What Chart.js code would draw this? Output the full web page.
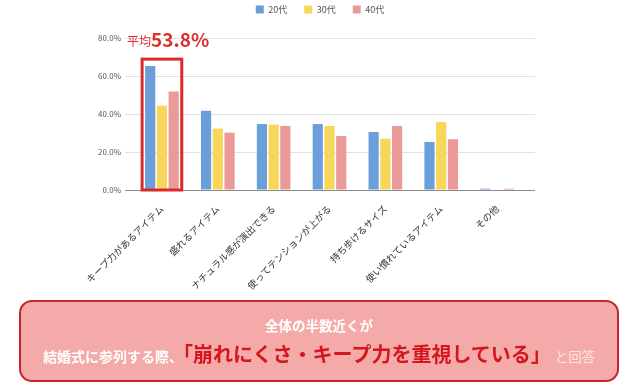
<!DOCTYPE html>
<html lang="ja">
<head>
<meta charset="utf-8">
<script src="https://cdn.jsdelivr.net/npm/chart.js@4.4.1/dist/chart.umd.min.js"></script>
<style>
  html, body { margin: 0; padding: 0; background: #fff; }
  body { width: 640px; height: 387px; position: relative; overflow: hidden;
         font-family: "Noto Sans CJK JP", "Noto Sans", sans-serif; }
  #c { position: absolute; left: 0; top: 0; }
  #box { position: absolute; left: 19px; top: 300px; width: 596px; height: 78px;
         background: #f4aaa8; border: 2px solid #c2272d; border-radius: 13px; }
  #l1 { position: absolute; left: 0; top: 14px; width: 100%; text-align: center;
        color: #fff; font-weight: 700; font-size: 13.5px; line-height: 18px; }
  #l2 { position: absolute; left: 22px; top: 39px; white-space: nowrap; line-height: 26px; }
  .w { color: #fff; font-weight: 700; font-size: 14px; }
  .r { color: #d3171c; font-weight: 700; font-size: 20px; }
  .f { color: #fbe3e1; font-size: 13.5px; margin-left: 4px; }
</style>
</head>
<body>
<canvas id="c" width="640" height="387"></canvas>
<div id="box">
  <div id="l1">全体の半数近くが</div>
  <div id="l2"><span class="w">結婚式に参列する際、</span><span class="r">「崩れにくさ・キープ力を重視している」</span><span class="f">と回答</span></div>
</div>
<script>
const categories = ["キープ力があるアイテム", "盛れるアイテム", "ナチュラル感が演出できる", "使ってテンションが上がる", "持ち歩けるサイズ", "使い慣れているアイテム", "その他"];
const seriesNames = ["20代", "30代", "40代"];
const values20 = [65.2, 41.7, 34.7, 34.7, 30.5, 25.3, 0.7];
const values30 = [44.4, 32.3, 34.4, 33.7, 27.0, 35.8, 0.3];
const values40 = [51.8, 30.2, 33.7, 28.4, 33.7, 26.7, 0.7];
const yTicks = [0, 20, 40, 60, 80];

const colors = ["#6a9fd9", "#f8d65a", "#e99a99"];
const FONT = '"Noto Sans CJK JP", "Noto Sans", sans-serif';

const legendFit = {
  id: 'legendFit',
  beforeInit(chart) {
    const orig = chart.legend.fit;
    chart.legend.fit = function () { orig.call(this); this.height = 50; };
  }
};

const highlight = {
  id: 'highlight',
  afterDatasetsDraw(chart) {
    const ctx = chart.ctx;
    const y = chart.scales.y;
    const b0 = chart.getDatasetMeta(0).data[0];
    const b2 = chart.getDatasetMeta(2).data[0];
    const first = [values20[0], values30[0], values40[0]];
    const maxV = Math.max(...first);
    const avg = first.reduce((a, b) => a + b, 0) / first.length;
    const left = b0.x - b0.width / 2 - 3;
    const right = b2.x + b2.width / 2 + 3;
    const top = y.getPixelForValue(maxV) - 7;
    const bottom = y.getPixelForValue(0);
    ctx.save();
    ctx.strokeStyle = '#d92a2a';
    ctx.lineWidth = 3;
    ctx.strokeRect(left, top, right - left, bottom - top);
    ctx.fillStyle = '#d9302c';
    ctx.textBaseline = 'alphabetic';
    ctx.textAlign = 'left';
    ctx.font = '12px ' + FONT;
    const tx = left - 15, ty = top - 13;
    ctx.fillText('平均', tx, ty);
    const w = ctx.measureText('平均').width;
    ctx.font = 'bold 19px ' + FONT;
    ctx.fillText(avg.toFixed(1) + '%', tx + w, ty + 1);
    ctx.restore();
  }
};

const gridColor = (c) => (c.tick && c.tick.value === 0) ? '#8a8a8a' : '#e2e2e2';

new Chart(document.getElementById('c'), {
  type: 'bar',
  data: {
    labels: categories,
    datasets: [
      { label: seriesNames[0], data: values20, backgroundColor: colors[0] },
      { label: seriesNames[1], data: values30, backgroundColor: colors[1] },
      { label: seriesNames[2], data: values40, backgroundColor: colors[2] }
    ].map(d => Object.assign(d, { barPercentage: 0.87, categoryPercentage: 0.63, borderWidth: 0 }))
  },
  options: {
    responsive: false,
    animation: false,
    layout: { padding: { top: -12, left: 0, right: 0, bottom: 0 } },
    plugins: {
      legend: {
        position: 'top',
        labels: {
          boxWidth: 8, boxHeight: 8, padding: 17,
          color: '#555', font: { family: FONT, size: 9 }
        }
      },
      tooltip: { enabled: false }
    },
    scales: {
      x: {
        grid: { display: false },
        border: { display: false },
        ticks: {
          autoSkip: false, minRotation: 45, maxRotation: 45, padding: 5,
          color: '#333', font: { family: FONT, size: 9.5 }
        },
        afterFit(s) { s.height = 197; }
      },
      y: {
        min: 0, max: 80,
        afterBuildTicks(s) { s.ticks = yTicks.map(v => ({ value: v })); },
        grid: { color: gridColor, tickLength: 9, drawTicks: true, lineWidth: 1 },
        border: { display: false },
        ticks: {
          padding: 4, color: '#555', font: { family: FONT, size: 8 },
          callback: v => v.toFixed(1) + '%'
        },
        afterFit(s) { s.width = 134; }
      },
      y2: {
        position: 'right',
        min: 0, max: 80,
        afterBuildTicks(s) { s.ticks = yTicks.map(v => ({ value: v })); },
        grid: { color: gridColor, drawOnChartArea: false, drawTicks: true, tickLength: 10 },
        border: { display: false },
        ticks: { display: false },
        afterFit(s) { s.width = 115; }
      }
    }
  },
  plugins: [legendFit, highlight]
});
</script>
</body>
</html>
